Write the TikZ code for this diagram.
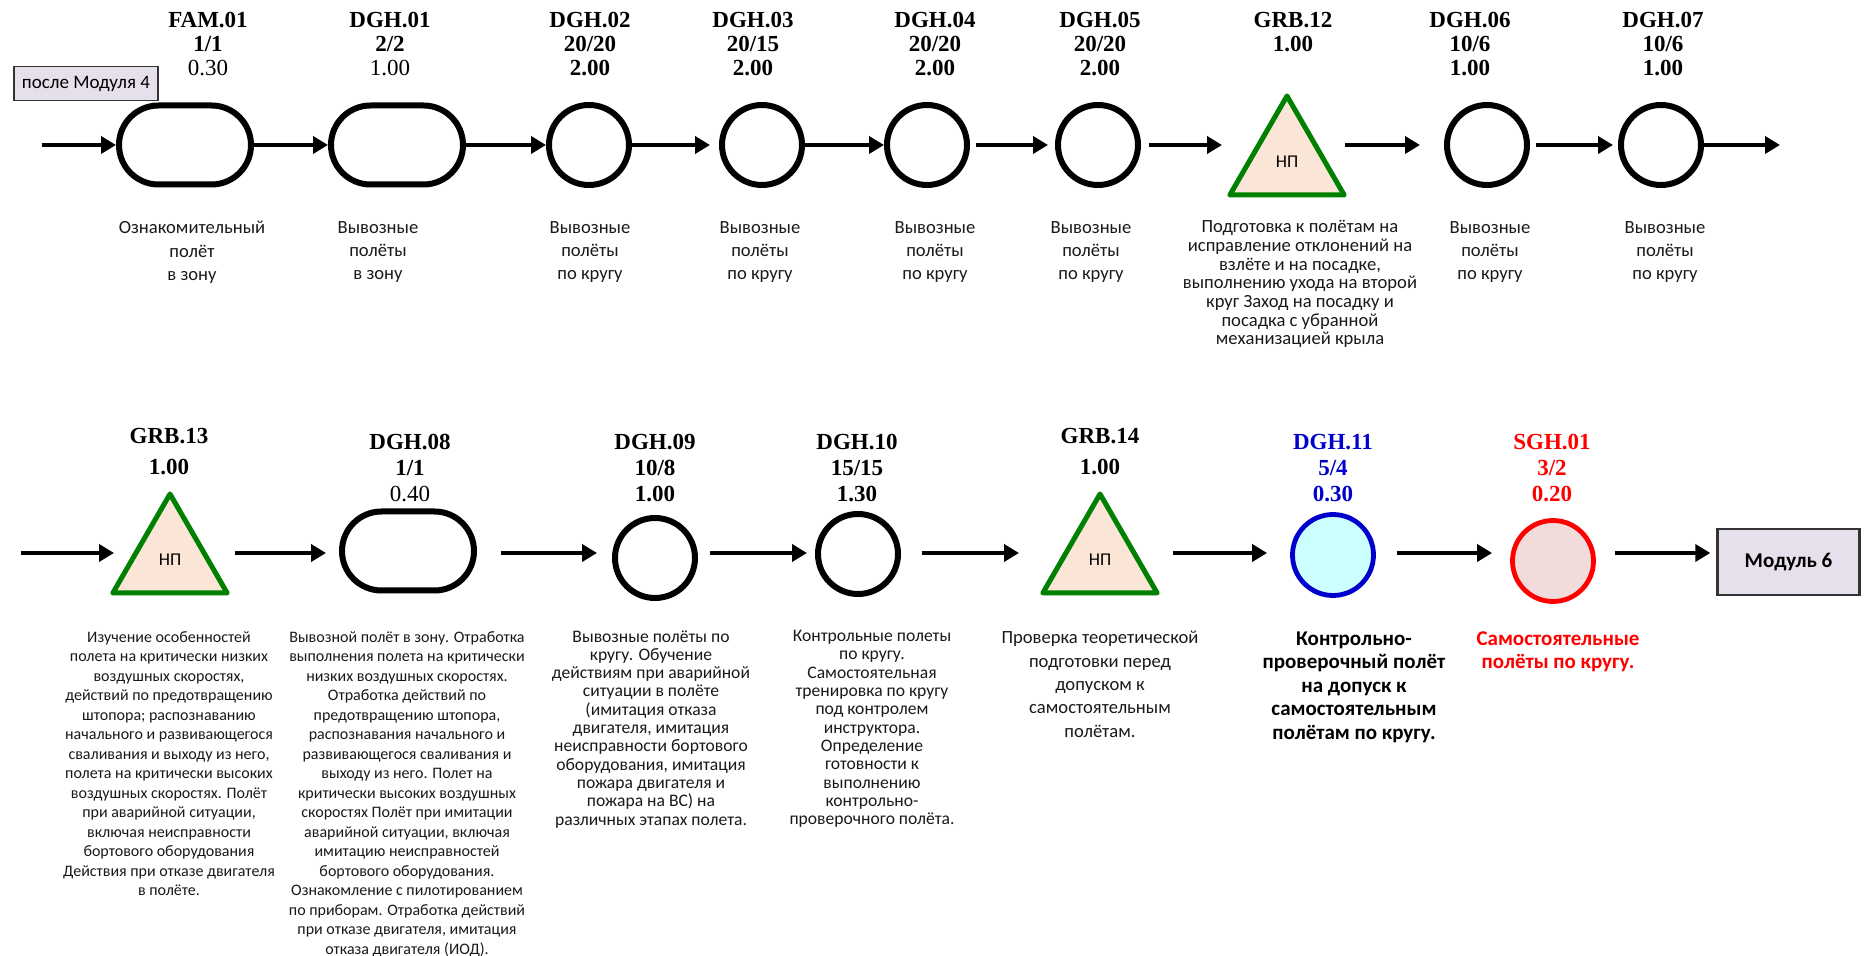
\documentclass[tikz,border=0pt]{standalone}
\usepackage{fontspec}
\setmainfont{Liberation Serif}
\newfontfamily\calib{Carlito}
\usetikzlibrary{arrows.meta,shapes.geometric}
\definecolor{peach}{HTML}{FBE5D6}
\definecolor{lilac}{HTML}{E5E0EC}
\definecolor{dgreen}{HTML}{008000}
\definecolor{cyanl}{HTML}{CCFFFF}
\definecolor{pinkl}{HTML}{F2DCDB}
\definecolor{dblue}{HTML}{0000CC}
\begin{document}
\begin{tikzpicture}[x=0.5pt,y=-0.5pt,every node/.style={align=center},
	code/.style={font=\bfseries\fontsize{11.5}{12}\selectfont,anchor=north,inner sep=0pt},
	codeb/.style={code,font=\bfseries\fontsize{11.5}{13}\selectfont},
	desc/.style={font=\calib\fontsize{9.3}{11.65}\selectfont,text=black!90,anchor=north,inner sep=0pt},
	fine/.style={font=\calib\fontsize{8}{9.75}\selectfont,text=black!90,anchor=north,inner sep=0pt},
	mid/.style={font=\calib\fontsize{8.8}{9.15}\selectfont,text=black!90,anchor=north,inner sep=0pt},
	ring/.style={circle,draw,line width=3pt,minimum size=40pt,inner sep=0pt},
	pill/.style={rectangle,draw,rounded corners=19.75pt,line width=3pt,minimum width=66pt,minimum height=39.5pt},
	np/.style={regular polygon,regular polygon sides=3,draw=dgreen,fill=peach,line width=2.5pt,line join=round,minimum size=66pt,inner sep=0pt,font=\calib\fontsize{9}{10}\selectfont},
	modbox/.style={draw=black!80,fill=lilac,font=\calib\fontsize{9.5}{11}\selectfont},
	arr/.style={line width=2pt,-{Triangle[length=7.5pt,width=8.5pt]}}]
	\useasboundingbox(0,0)rectangle(1865,956);
	% first row
	\node[modbox,line width=0.7pt,minimum width=72pt,minimum height=17pt](m4)at(86,83.5){после Модуля 4};
	\coordinate(in1)at(42,145);
	\coordinate(out1)at(1780,145);
	\node[pill](fam)at(185,145){};
	\node[pill](d1)at(397,145){};
	\foreach \n/\x in{2/589,3/762,4/927,5/1098,6/1487,7/1661}
	\node[ring](d\n)at(\x,145){};
	\node[np](g12)at(1287,162){НП};
	\node[code](lfam)at(208,12){FAM.01\\1/1\\{\mdseries 0.30}};
	\node[code](ld1)at(390,12){DGH.01\\2/2\\{\mdseries 1.00}};
	\node[code](ld2)at(590,12){DGH.02\\20/20\\2.00};
	\node[code](ld3)at(753,12){DGH.03\\20/15\\2.00};
	\node[code](ld4)at(935,12){DGH.04\\20/20\\2.00};
	\node[code](ld5)at(1100,12){DGH.05\\20/20\\2.00};
	\node[code](lg12)at(1293,12){GRB.12\\1.00};
	\node[code](ld6)at(1470,12){DGH.06\\10/6\\1.00};
	\node[code](ld7)at(1663,12){DGH.07\\10/6\\1.00};
	\node[desc](tfam)at(192,221){Ознакомительный\\полёт\\в зону};
	\node[desc](td1)at(378,221){Вывозные\\полёты\\в зону};
	\foreach \n/\x in{2/590,3/760,4/935,5/1091,6/1490,7/1665}
	\node[desc](td\n)at(\x,221){Вывозные\\полёты\\по кругу};
	\node[desc,font=\calib\fontsize{9.3}{9.35}\selectfont](tg12)at(1300,220){Подготовка к полётам на\\исправление отклонений на\\взлёте и на посадке,\\выполнению ухода на второй\\круг Заход на посадку и\\посадка с убранной\\механизацией крыла};
	\draw[arr](in1)--(fam);
	\draw[arr](fam)--(d1);
	\draw[arr](d1)--(d2);
	\draw[arr,shorten >=4.5pt](d2)--(d3);
	\draw[arr](d3)--(d4);
	\draw[arr,shorten <=3pt,shorten >=3.5pt](d4)--(d5);
	\draw[arr,shorten <=4pt,shorten >=12pt](d5.east)--(g12.west|-d5);
	\draw[arr,shorten <=8.5pt,shorten >=12pt](g12.east|-d6)--(d6);
	\draw[arr,shorten <=3pt,shorten >=2.5pt](d6)--(d7);
	\draw[arr](d7)--(out1);
	% second row
	\coordinate(in2)at(21,553);
	\node[np](g13)at(170,560){НП};
	\node[pill](d8)at(408,551){};
	\node[ring](d9)at(655,558){};
	\node[ring](d10)at(858,554){};
	\node[np](g14)at(1100,560){НП};
	\node[ring,line width=2.4pt,minimum size=40.5pt,draw=dblue,fill=cyanl](d11)at(1333,555){};
	\node[ring,line width=2.4pt,minimum size=40.5pt,draw=red,fill=pinkl](s1)at(1553,561){};
	\node[modbox,line width=1.2pt,minimum width=71pt,minimum height=33pt,font=\calib\bfseries\fontsize{10.5}{12}\selectfont](m6)at(1788.5,562){Модуль 6};
	\node[codeb,font=\bfseries\fontsize{11.5}{15.5}\selectfont](lg13)at(169,428){GRB.13\\1.00};
	\node[codeb](ld8)at(410,434){DGH.08\\1/1\\{\mdseries 0.40}};
	\node[codeb](ld9)at(655,434){DGH.09\\10/8\\1.00};
	\node[codeb](ld10)at(857,434){DGH.10\\15/15\\1.30};
	\node[codeb,font=\bfseries\fontsize{11.5}{15.5}\selectfont](lg14)at(1100,428){GRB.14\\1.00};
	\node[codeb,text=dblue](ld11)at(1333,434){DGH.11\\5/4\\0.30};
	\node[codeb,text=red](ls1)at(1552,434){SGH.01\\3/2\\0.20};
	\node[fine](tg13)at(169,631){Изучение особенностей\\полета на критически низких\\воздушных скоростях,\\действий по предотвращению\\штопора; распознаванию\\начального и развивающегося\\сваливания и выходу из него,\\полета на критически высоких\\воздушных скоростях. Полёт\\при аварийной ситуации,\\включая неисправности\\бортового оборудования\\Действия при отказе двигателя\\в полёте.};
	\node[fine](td8)at(407,631){Вывозной полёт в зону. Отработка\\выполнения полета на критически\\низких воздушных скоростях.\\Отработка действий по\\предотвращению штопора,\\распознавания начального и\\развивающегося сваливания и\\выходу из него. Полет на\\критически высоких воздушных\\скоростях Полёт при имитации\\аварийной ситуации, включая\\имитацию неисправностей\\бортового оборудования.\\Ознакомление с пилотированием\\по приборам. Отработка действий\\при отказе двигателя, имитация\\отказа двигателя (ИОД).};
	\node[mid](td9)at(651,630){Вывозные полёты по\\кругу. Обучение\\действиям при аварийной\\ситуации в полёте\\(имитация отказа\\двигателя, имитация\\неисправности бортового\\оборудования, имитация\\пожара двигателя и\\пожара на ВС) на\\различных этапах полета.};
	\node[mid](td10)at(872,630){Контрольные полеты\\по кругу.\\Самостоятельная\\тренировка по кругу\\под контролем\\инструктора.\\Определение\\готовности к\\выполнению\\контрольно-\\проверочного полёта.};
	\node[desc](tg14)at(1100,631){Проверка теоретической\\подготовки перед\\допуском к\\самостоятельным\\полётам.};
	\node[desc,font=\calib\bfseries\fontsize{10.5}{11.75}\selectfont,text=black](td11)at(1354,631){Контрольно-\\проверочный полёт\\на допуск к\\самостоятельным\\полётам по кругу.};
	\node[desc,font=\calib\bfseries\fontsize{10.5}{11.75}\selectfont,text=red](ts1)at(1558,631){Самостоятельные\\полёты по кругу.};
	\draw[arr,shorten >=7.5pt](in2)--(g13.west|-in2);
	\draw[arr,shorten <=12pt,shorten >=6.5pt](g13.east|-in2)--(d8.west|-in2);
	\draw[arr,shorten <=12pt,shorten >=7.5pt](d8.east|-in2)--(d9.west|-in2);
	\draw[arr,shorten <=6pt,shorten >=4pt](d9.east|-in2)--(d10.west|-in2);
	\draw[arr,shorten <=10.5pt,shorten >=20pt](d10.east|-in2)--(g14.west|-in2);
	\draw[arr,shorten <=16pt,shorten >=11.5pt](g14.east|-in2)--(d11.west|-in2);
	\draw[arr,shorten <=10.5pt,shorten >=9pt](d11.east|-in2)--(s1.west|-in2);
	\draw[arr,shorten <=9.5pt,shorten >=3pt](s1.east|-in2)--(m6.west|-in2);
\end{tikzpicture}
\end{document}
